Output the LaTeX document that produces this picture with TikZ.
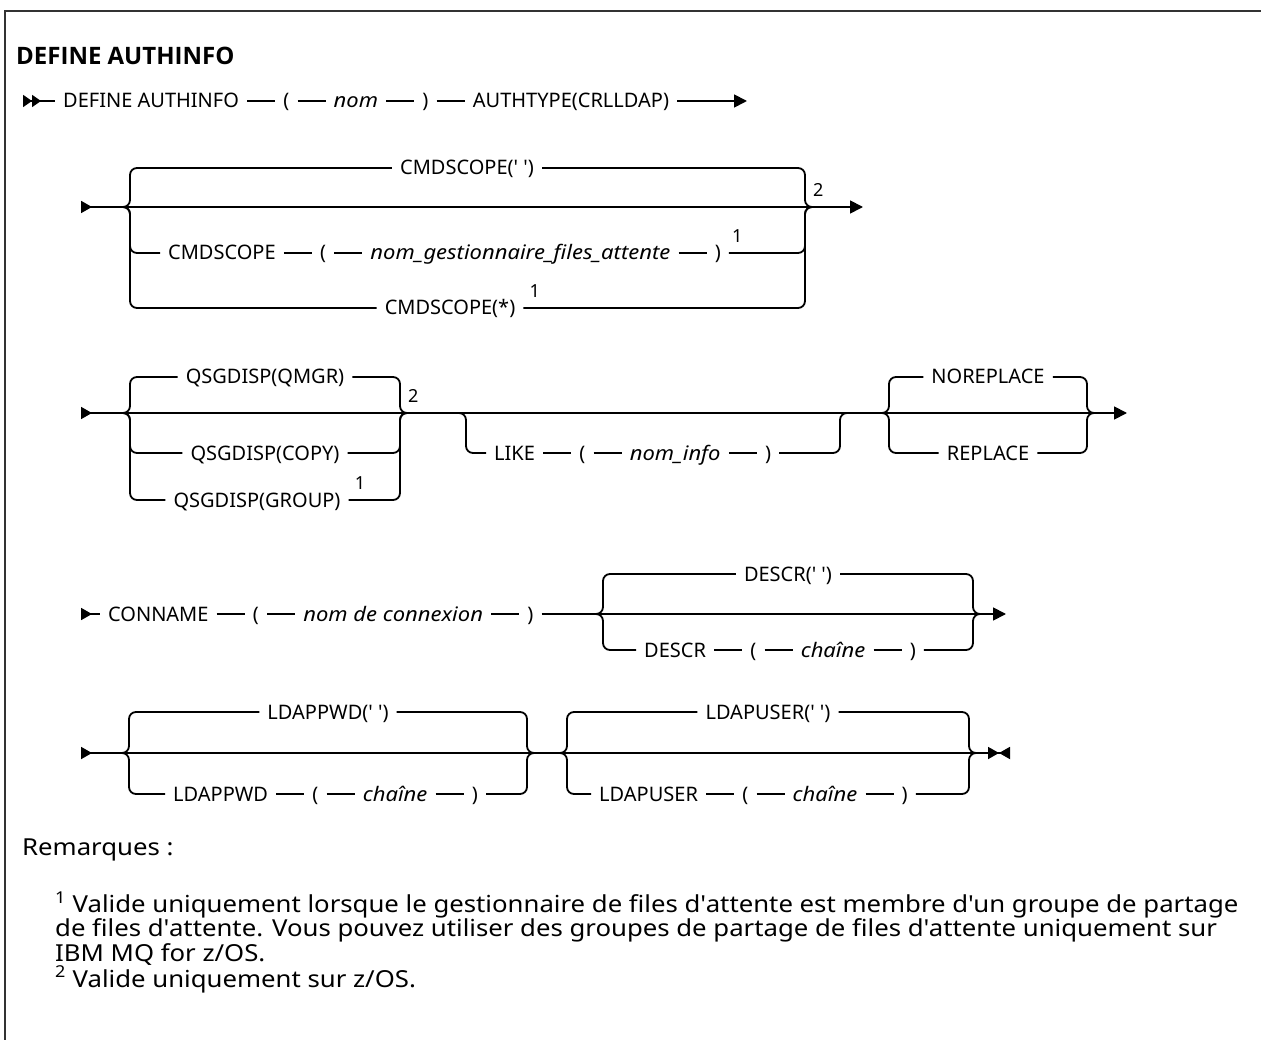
\documentclass[tikz,border=0pt]{standalone}
\usepackage{fontspec}
\setmainfont{Noto Sans}
\newfontfamily\railfam{Noto Sans}
\newfontfamily\varfam[FakeStretch=1.1]{Noto Sans}
\newfontfamily\notefam[FakeStretch=1.1]{Noto Sans}
\newfontfamily\titlefam{Open Sans}
\usetikzlibrary{arrows.meta,positioning}
\newcommand\railfont{\railfam\fontsize{20}{22}\selectfont}
\newcommand\varfont{\varfam\fontsize{20}{22}\selectfont\itshape}
\newcommand\supfont{\railfam\fontsize{18}{20}\selectfont}
\newcommand\notefont{\notefam\fontsize{23.4}{24.5}\selectfont}
\newcommand\titlefont{\titlefam\bfseries\fontsize{24}{28}\selectfont}
\newcommand\sq{\textquotesingle}
\tikzset{
  tok/.style    ={font=\railfont,inner xsep=8pt,inner ysep=0pt,text height=14pt,text depth=0pt},
  var/.style    ={tok,font=\varfont},
  supnum/.style ={font=\supfont,inner sep=0pt,text depth=0pt,anchor=south west},
  rail/.style   ={line width=1.8pt},
  branch/.style ={rail,rounded corners=7pt},
  frame/.style  ={line width=2pt,black!80},
  note/.style   ={font=\notefont,inner sep=0pt,anchor=base west,align=left},
  beginall/.style={rail,{Triangle[reversed,length=9pt,width=12pt]Triangle[reversed,length=9pt,width=12pt]}-},
  beginrow/.style={rail,{Triangle[reversed,length=11pt,width=12pt]}-},
  endrow/.style ={rail,-{Triangle[length=13pt,width=13pt]}},
  thru/.style   ={rail,{Triangle[reversed,length=11pt,width=12pt]}-{Triangle[length=13pt,width=13pt]}},
  thruend/.style={rail,{Triangle[reversed,length=11pt,width=12pt]}-{Triangle[length=11pt,width=12pt]Triangle[reversed,length=11pt,width=12pt]}},
}
\begin{document}
\begin{tikzpicture}[node distance=28pt,x=1pt,y=-1pt]
\useasboundingbox (0,0) rectangle (1261,1040);
\draw[frame] (5,1040) -- (5,11) -- (1261,11);
\node[font=\titlefont,anchor=base west,inner sep=0pt] (ttl) at (16,65) {DEFINE AUTHINFO};

\coordinate (s1) at (23,101);
\coordinate (e1) at (747,101);
\node[tok,anchor=west] (def) at (55,101) {DEFINE AUTHINFO\ };
\node[tok,right=of def] (lp1) {(};
\node[var,right=of lp1] (nom) {nom\ };
\node[tok,right=of nom] (rp1) {)};
\node[tok,right=of rp1] (auth) {AUTHTYPE(CRLLDAP)};
\draw[beginall] (s1) -- (def);
\draw[rail] (def) -- (lp1) (lp1) -- (nom) (nom) -- (rp1) (rp1) -- (auth);
\draw[endrow] (auth) -- (e1);

\coordinate (s2) at (81,207);
\coordinate (l2) at (130,207);
\coordinate (r2) at (805,207);
\coordinate (e2) at (863,207);
\node[tok] (csd) at (467,168) {CMDSCOPE(\sq\ \sq)};
\node[tok,anchor=west] (cs) at (160,253) {CMDSCOPE};
\node[tok,right=of cs] (lp2) {(};
\node[var,right=of lp2] (qm) {nom\_gestionnaire\_files\_attente\ };
\node[tok,right=of qm] (rp2) {)};
\node[supnum] (n2a) at ([xshift=3pt,yshift=10pt]rp2.east) {1};
\node[tok] (csa) at (450,308) {CMDSCOPE(*)};
\node[supnum] (n2b) at ([xshift=6pt,yshift=10pt]csa.east) {1};
\node[supnum] (n2c) at ([xshift=8pt,yshift=10pt]r2) {2};
\draw[thru] (s2) -- (e2);
\draw[branch] ([xshift=-10pt]l2) -| (l2 |- csd) -- (csd);
\draw[branch] (csd) -| (r2) -- ([xshift=10pt]r2);
\draw[branch] ([xshift=-10pt]l2) -| (l2 |- cs) -- (cs);
\draw[rail] (cs) -- (lp2) (lp2) -- (qm) (qm) -- (rp2);
\draw[branch] (rp2) -| (r2) -- ([xshift=10pt]r2);
\draw[branch] ([xshift=-10pt]l2) -| (l2 |- csa) -- (csa);
\draw[branch] (csa) -| (r2) -- ([xshift=10pt]r2);

\coordinate (s3) at (81,413);
\coordinate (l3) at (130,413);
\coordinate (r3) at (400,413);
\coordinate (lk1) at (466,413);
\coordinate (lk2) at (840,413);
\coordinate (nr1) at (889,413);
\coordinate (nr2) at (1087,413);
\coordinate (e3) at (1127,413);
\node[tok] (qmgr) at (265,377) {QSGDISP(QMGR)};
\node[tok] (qcopy) at (265,453) {QSGDISP(COPY)};
\node[tok] (qgrp) at (257,500) {QSGDISP(GROUP)};
\node[supnum] (n3a) at ([xshift=6pt,yshift=10pt]qgrp.east) {1};
\node[supnum] (n3b) at ([xshift=8pt,yshift=10pt]r3) {2};
\node[tok,anchor=west] (like) at (486,453) {LIKE};
\node[tok,right=of like] (lp3) {(};
\node[var,right=of lp3] (info) {nom\_info};
\node[tok,right=of info] (rp3) {)};
\node[tok] (norep) at (988,377) {NOREPLACE};
\node[tok] (rep) at (988,453) {REPLACE};
\draw[thru] (s3) -- (e3);
\draw[branch] ([xshift=-10pt]l3) -| (l3 |- qmgr) -- (qmgr);
\draw[branch] (qmgr) -| (r3) -- ([xshift=10pt]r3);
\draw[branch] ([xshift=-10pt]l3) -| (l3 |- qcopy) -- (qcopy);
\draw[branch] (qcopy) -| (r3) -- ([xshift=10pt]r3);
\draw[branch] ([xshift=-10pt]l3) -| (l3 |- qgrp) -- (qgrp);
\draw[branch] (qgrp) -| (r3) -- ([xshift=10pt]r3);
\draw[branch] ([xshift=-10pt]lk1) -| (lk1 |- like) -- (like);
\draw[rail] (like) -- (lp3) (lp3) -- (info) (info) -- (rp3);
\draw[branch] (rp3) -| (lk2) -- ([xshift=10pt]lk2);
\draw[branch] ([xshift=-10pt]nr1) -| (nr1 |- norep) -- (norep);
\draw[branch] (norep) -| (nr2) -- ([xshift=10pt]nr2);
\draw[branch] ([xshift=-10pt]nr1) -| (nr1 |- rep) -- (rep);
\draw[branch] (rep) -| (nr2) -- ([xshift=10pt]nr2);

\coordinate (s4) at (81,614);
\coordinate (d1) at (603,614);
\coordinate (d2) at (973,614);
\coordinate (e4) at (1006,614);
\node[tok,anchor=west] (conn) at (100,614) {CONNAME};
\node[tok,right=of conn] (lp4) {(};
\node[var,right=of lp4] (cnx) {nom de connexion\ };
\node[tok,right=of cnx] (rp4) {)};
\node[tok] (descd) at (788,574) {DESCR(\sq\ \sq)};
\node[tok,anchor=west] (desc) at (636,650) {DESCR};
\node[tok,right=of desc] (lp5) {(};
\node[var,right=of lp5] (ch1) {chaîne};
\node[tok,right=of ch1] (rp5) {)};
\draw[beginrow] (s4) -- (conn);
\draw[rail] (conn) -- (lp4) (lp4) -- (cnx) (cnx) -- (rp4);
\draw[endrow] (rp4) -- (e4);
\draw[branch] ([xshift=-10pt]d1) -| (d1 |- descd) -- (descd);
\draw[branch] (descd) -| (d2) -- ([xshift=10pt]d2);
\draw[branch] ([xshift=-10pt]d1) -| (d1 |- desc) -- (desc);
\draw[rail] (desc) -- (lp5) (lp5) -- (ch1) (ch1) -- (rp5);
\draw[branch] (rp5) -| (d2) -- ([xshift=10pt]d2);

\coordinate (s5) at (81,753);
\coordinate (p1) at (129,753);
\coordinate (p2) at (527,753);
\coordinate (u1) at (567,753);
\coordinate (u2) at (969,753);
\coordinate (e5) at (1010,753);
\node[tok] (pwdd) at (328,712) {LDAPPWD(\sq\ \sq)};
\node[tok,anchor=west] (pwd) at (165,794) {LDAPPWD};
\node[tok,right=of pwd] (lp6) {(};
\node[var,right=of lp6] (ch2) {chaîne};
\node[tok,right=of ch2] (rp6) {)};
\node[tok] (usrd) at (768,712) {LDAPUSER(\sq\ \sq)};
\node[tok,anchor=west] (usr) at (591,794) {LDAPUSER};
\node[tok,right=of usr] (lp7) {(};
\node[var,right=of lp7] (ch3) {chaîne};
\node[tok,right=of ch3] (rp7) {)};
\draw[thruend] (s5) -- (e5);
\draw[branch] ([xshift=-10pt]p1) -| (p1 |- pwdd) -- (pwdd);
\draw[branch] (pwdd) -| (p2) -- ([xshift=10pt]p2);
\draw[branch] ([xshift=-10pt]p1) -| (p1 |- pwd) -- (pwd);
\draw[rail] (pwd) -- (lp6) (lp6) -- (ch2) (ch2) -- (rp6);
\draw[branch] (rp6) -| (p2) -- ([xshift=10pt]p2);
\draw[branch] ([xshift=-10pt]u1) -| (u1 |- usrd) -- (usrd);
\draw[branch] (usrd) -| (u2) -- ([xshift=10pt]u2);
\draw[branch] ([xshift=-10pt]u1) -| (u1 |- usr) -- (usr);
\draw[rail] (usr) -- (lp7) (lp7) -- (ch3) (ch3) -- (rp7);
\draw[branch] (rp7) -| (u2) -- ([xshift=10pt]u2);

\node[note] (rem) at (22,855) {Remarques :};
\node[note] (fn) at (55,987) {\textsuperscript{1} Valide uniquement lorsque le gestionnaire de files d\sq attente est membre d\sq un groupe de partage\\de files d\sq attente. Vous pouvez utiliser des groupes de partage de files d\sq attente uniquement sur\\IBM MQ for z/OS.\\\textsuperscript{2} Valide uniquement sur z/OS.};
\end{tikzpicture}
\end{document}
